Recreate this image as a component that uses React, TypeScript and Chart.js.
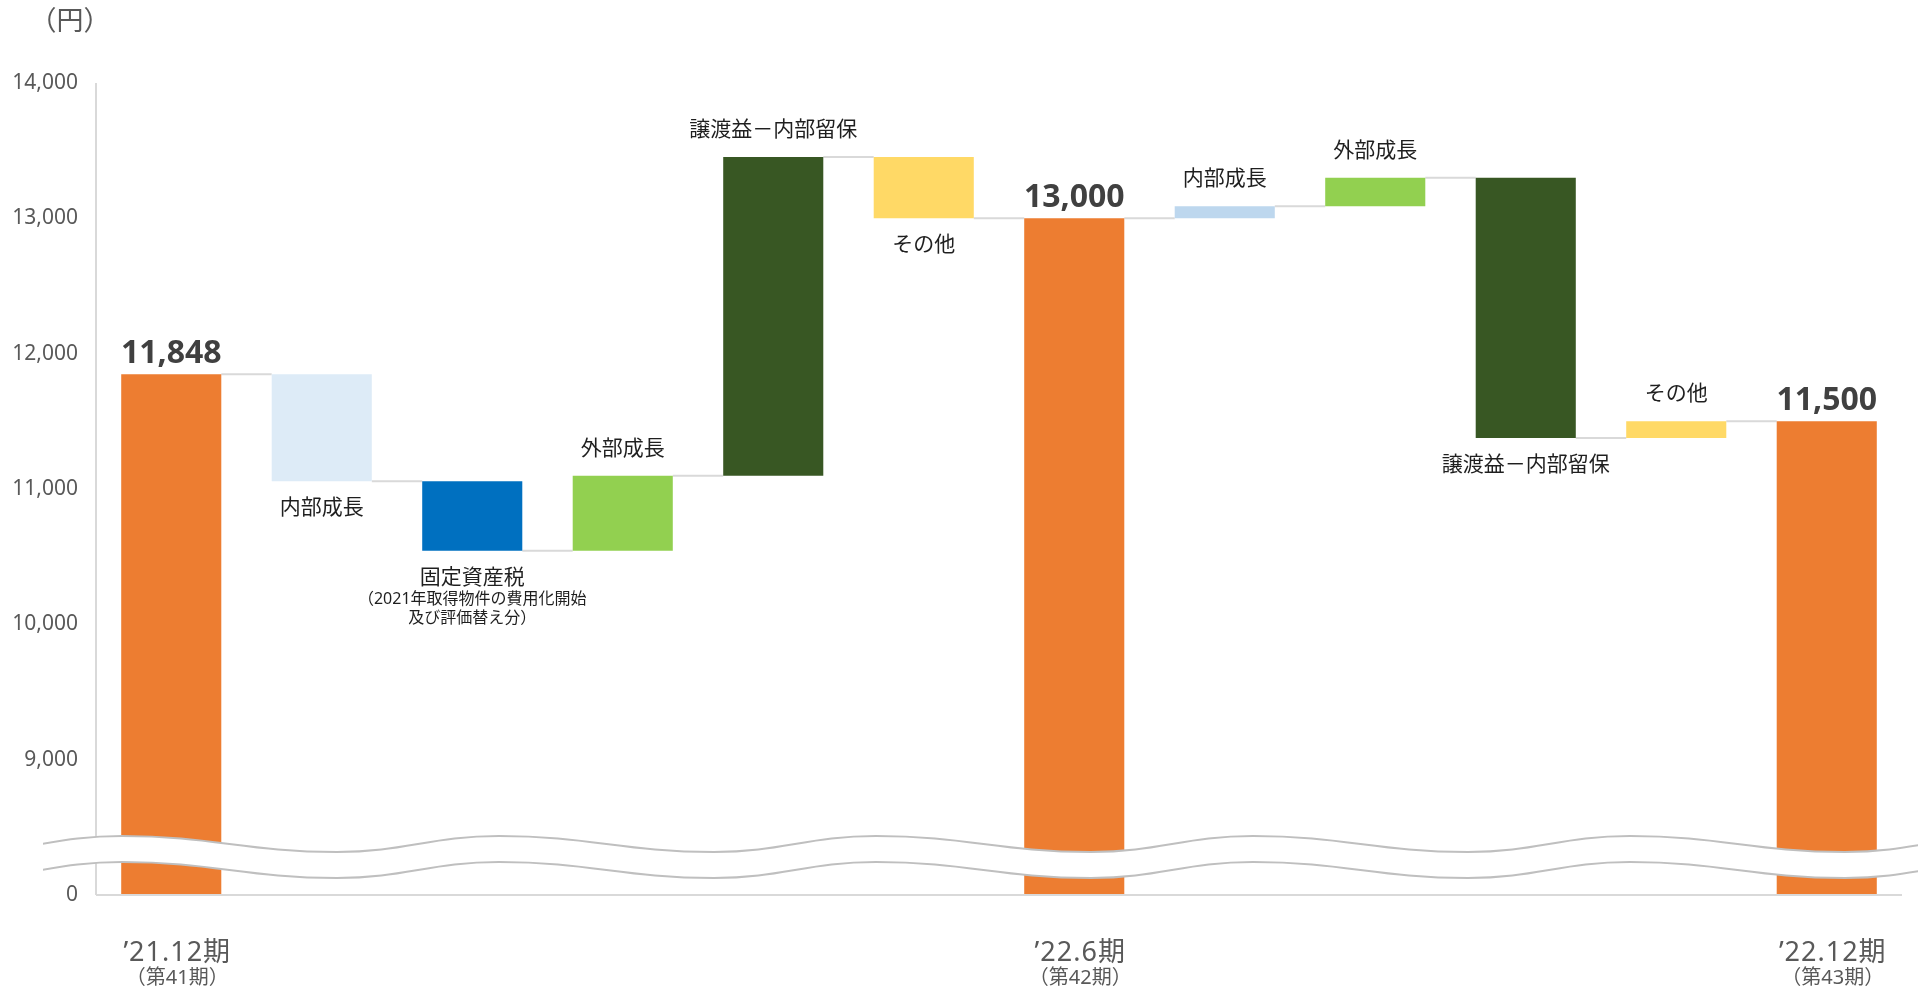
import { useEffect, useRef } from 'react';
import { Chart, registerables } from 'chart.js';

Chart.register(...registerables);

// ---------- data ----------
const categories = [
  '’21.12期', '内部成長', '固定資産税', '外部成長', '譲渡益－内部留保', 'その他',
  '’22.6期', '内部成長', '外部成長', '譲渡益－内部留保', 'その他', '’22.12期',
];
const periodSubLabels = [
  '（第41期）', '', '', '', '', '', '（第42期）', '', '', '', '', '（第43期）',
];
const totalValues: (number | null)[] = [11848, null, null, null, null, null, 13000, null, null, null, null, 11500];
const deltaValues: (number | null)[] = [null, -790, -515, 555, 2355, -453, null, 90, 210, -1923, 123, null];
const barColors = [
  '#ED7D31', '#DDEBF7', '#0070C0', '#92D050', '#385723', '#FFD966',
  '#ED7D31', '#BDD7EE', '#92D050', '#385723', '#FFD966', '#ED7D31',
];
const yTickValues = [8000, 9000, 10000, 11000, 12000, 13000, 14000];
const yTickLabels = ['0', '9,000', '10,000', '11,000', '12,000', '13,000', '14,000'];
const taxNoteLines = ['（2021年取得物件の費用化開始', '及び評価替え分）'];
const unitLabel = '（円）';
const AXIS_FLOOR = 8000; // broken axis: this position is labelled 0
const AXIS_MAX = 14000;

// ---------- derived ----------
const levels: number[] = [];
const ranges: [number, number][] = [];
{
  let running = 0;
  categories.forEach((_, i) => {
    const t = totalValues[i];
    if (t != null) {
      running = t;
      ranges.push([AXIS_FLOOR, t]);
    } else {
      const d = deltaValues[i] as number;
      const start = running;
      running += d;
      ranges.push([Math.min(start, running), Math.max(start, running)]);
    }
    levels.push(running);
  });
}

const FONT = "'Noto Sans', 'Noto Sans CJK JP', sans-serif";

const waterfallPlugin = {
  id: 'waterfallDecor',
  beforeDatasetsDraw(chart: any) {
    const { ctx, chartArea } = chart;
    const xs = chart.scales.x;
    const ys = chart.scales.y;
    const meta = chart.getDatasetMeta(0);
    ctx.save();
    // y axis line
    ctx.strokeStyle = '#d9d9d9';
    ctx.lineWidth = 2;
    ctx.beginPath();
    ctx.moveTo(chartArea.left, chartArea.top);
    ctx.lineTo(chartArea.left, chartArea.bottom);
    ctx.stroke();
    // connectors
    for (let i = 0; i < categories.length - 1; i++) {
      const hw0 = meta.data[i].width / 2;
      const hw1 = meta.data[i + 1].width / 2;
      const yy = ys.getPixelForValue(levels[i]);
      ctx.beginPath();
      ctx.moveTo(xs.getPixelForValue(i) + hw0, yy);
      ctx.lineTo(xs.getPixelForValue(i + 1) - hw1, yy);
      ctx.stroke();
    }
    ctx.restore();
  },
  afterDatasetsDraw(chart: any) {
    const { ctx, chartArea, width } = chart;
    ctx.save();
    // x axis line
    ctx.strokeStyle = '#d9d9d9';
    ctx.lineWidth = 2;
    ctx.beginPath();
    ctx.moveTo(chartArea.left, chartArea.bottom);
    ctx.lineTo(chartArea.right, chartArea.bottom);
    ctx.stroke();

    // wavy break band
    const P = 377;
    const amp = 8;
    const fallFrac = 0.57;
    const startX = 43;
    const endX = width;
    const upperMean = chartArea.bottom - 51;
    const gap = 26;
    let c = chartArea.left + 26;
    while (c > startX - P) c -= P;
    const pts: { x: number; y: number }[] = [];
    while (c < endX + P) {
      pts.push({ x: c, y: upperMean - amp });
      pts.push({ x: c + fallFrac * P, y: upperMean + amp });
      c += P;
    }
    const k = 0.42;
    const traceForward = (off: number, first: boolean) => {
      if (first) ctx.moveTo(pts[0].x, pts[0].y + off);
      else ctx.lineTo(pts[0].x, pts[0].y + off);
      for (let i = 1; i < pts.length; i++) {
        const p0 = pts[i - 1];
        const p1 = pts[i];
        const dx = p1.x - p0.x;
        ctx.bezierCurveTo(p0.x + dx * k, p0.y + off, p1.x - dx * k, p1.y + off, p1.x, p1.y + off);
      }
    };
    const traceBackward = (off: number) => {
      const n = pts.length;
      ctx.lineTo(pts[n - 1].x, pts[n - 1].y + off);
      for (let i = n - 1; i > 0; i--) {
        const p1 = pts[i];
        const p0 = pts[i - 1];
        const dx = p1.x - p0.x;
        ctx.bezierCurveTo(p1.x - dx * k, p1.y + off, p0.x + dx * k, p0.y + off, p0.x, p0.y + off);
      }
    };
    ctx.beginPath();
    ctx.rect(startX, 0, endX - startX, chart.height);
    ctx.clip();
    ctx.beginPath();
    traceForward(0, true);
    traceBackward(gap);
    ctx.closePath();
    ctx.fillStyle = '#ffffff';
    ctx.fill();
    ctx.strokeStyle = '#bfbfbf';
    ctx.lineWidth = 2;
    ctx.beginPath();
    traceForward(0, true);
    ctx.stroke();
    ctx.beginPath();
    traceForward(gap, true);
    ctx.stroke();
    ctx.restore();
  },
  afterDraw(chart: any) {
    const { ctx, chartArea } = chart;
    const xs = chart.scales.x;
    const ys = chart.scales.y;
    ctx.save();
    ctx.textAlign = 'center';

    // unit label
    ctx.fillStyle = '#595959';
    ctx.font = `27px ${FONT}`;
    ctx.textBaseline = 'middle';
    ctx.fillText(unitLabel, chartArea.left - 26, 22);

    categories.forEach((label, i) => {
      const cx = xs.getPixelForValue(i);
      const top = ys.getPixelForValue(ranges[i][1]);
      const bottom = ys.getPixelForValue(ranges[i][0]);
      const t = totalValues[i];
      if (t != null) {
        ctx.fillStyle = '#404040';
        ctx.font = `bold 32px ${FONT}`;
        ctx.textBaseline = 'alphabetic';
        ctx.fillText(t.toLocaleString('en-US'), cx, top - 11);
        // period labels below axis
        ctx.fillStyle = '#595959';
        ctx.textBaseline = 'middle';
        ctx.font = `27px ${FONT}`;
        (ctx as any).letterSpacing = '1px';
        ctx.fillText(label, cx + 6, chartArea.bottom + 58);
        (ctx as any).letterSpacing = '0px';
        ctx.font = `20px ${FONT}`;
        ctx.fillText(periodSubLabels[i], cx + 6, chartArea.bottom + 83);
      } else {
        const d = deltaValues[i] as number;
        ctx.fillStyle = '#1f1f1f';
        ctx.font = `21px ${FONT}`;
        ctx.textBaseline = 'middle';
        const ly = d >= 0 ? top - 27 : bottom + 27;
        ctx.fillText(label, cx, ly);
        if (label === '固定資産税') {
          ctx.font = `16px ${FONT}`;
          ctx.fillText(taxNoteLines[0], cx, ly + 22);
          ctx.fillText(taxNoteLines[1], cx, ly + 41);
        }
      }
    });
    ctx.restore();
  },
};

export default function App() {
  const ref = useRef<HTMLCanvasElement>(null);
  useEffect(() => {
    const chart = new Chart(ref.current as HTMLCanvasElement, {
      type: 'bar',
      data: {
        labels: categories,
        datasets: [
          {
            data: ranges as any,
            backgroundColor: barColors,
            borderWidth: 0,
            barPercentage: 0.665,
            categoryPercentage: 1,
          },
        ],
      },
      options: {
        responsive: false,
        animation: false,
        layout: { padding: { left: 0, right: 16, top: 83, bottom: 97 } },
        plugins: {
          legend: { display: false },
          tooltip: { enabled: false },
          title: { display: false },
        },
        scales: {
          x: { display: false },
          y: {
            min: AXIS_FLOOR,
            max: AXIS_MAX,
            afterFit: (s: any) => {
              s.width = 96;
            },
            afterBuildTicks: (s: any) => {
              s.ticks = yTickValues.map((v) => ({ value: v }));
            },
            grid: { display: false, drawTicks: false },
            border: { display: false },
            ticks: {
              padding: 18,
              color: '#595959',
              font: { family: FONT, size: 21 },
              callback: (v: any) => {
                const idx = yTickValues.indexOf(Number(v));
                return idx >= 0 ? yTickLabels[idx] : '';
              },
            },
          },
        },
      },
      plugins: [waterfallPlugin],
    });
    return () => chart.destroy();
  }, []);
  return (
    <div style={{ position: 'fixed', left: 0, top: 0, width: 1918, height: 992, background: '#fff' }}>
      <canvas ref={ref} width={1918} height={992} style={{ width: 1918, height: 992, display: 'block' }} />
    </div>
  );
}
